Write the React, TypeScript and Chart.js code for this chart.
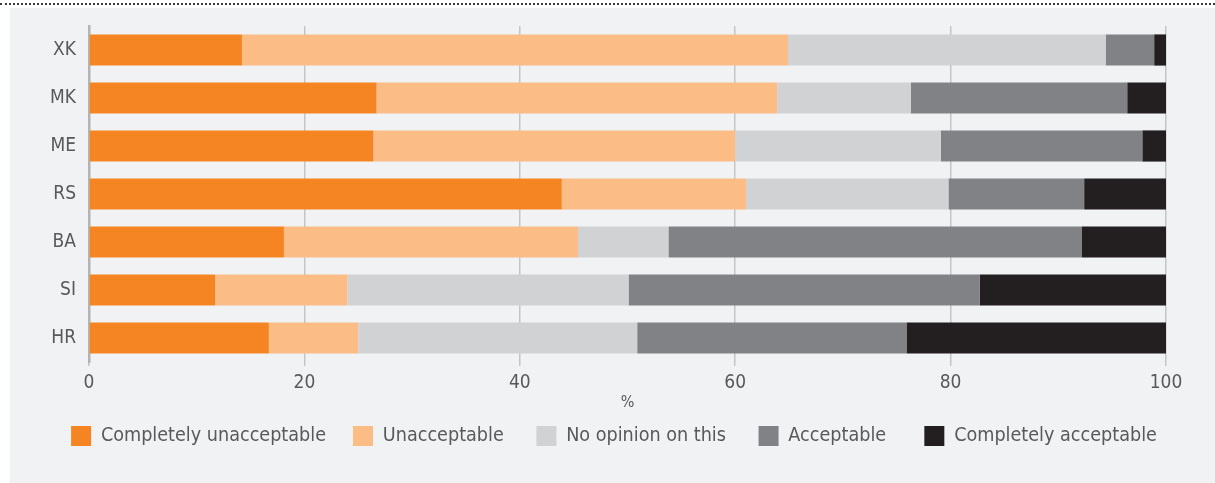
import React, { useEffect, useRef } from "react";
import { Chart, registerables } from "chart.js";

Chart.register(...registerables);

const categories = ["XK", "MK", "ME", "RS", "BA", "SI", "HR"];
const completelyUnacceptable = [14.2, 26.7, 26.4, 43.9, 18.1, 11.7, 16.7];
const unacceptable = [50.7, 37.2, 33.6, 17.1, 27.3, 12.3, 8.3];
const noOpinion = [29.5, 12.4, 19.1, 18.8, 8.4, 26.1, 25.9];
const acceptable = [4.5, 20.1, 18.7, 12.6, 38.4, 32.6, 25.0];
const completelyAcceptable = [1.1, 3.6, 2.2, 7.6, 7.8, 17.3, 24.1];
const seriesNames = [
  "Completely unacceptable",
  "Unacceptable",
  "No opinion on this",
  "Acceptable",
  "Completely acceptable",
];
const seriesColors = ["#f58523", "#fbbc86", "#d1d2d4", "#818285", "#231f20"];
const xTicks = [0, 20, 40, 60, 80, 100];
const xTitle = "%";

const FONT = "'Liberation Sans Narrow', 'DejaVu Sans Condensed', Roboto, sans-serif";
const TEXT = "#58595b";
// extra trailing space after some legend entries, to mimic the reference's uneven spacing
const legendTrail = ["", " ", " ", "  ", ""];

const legendShift = {
  id: "legendShift",
  afterLayout(chart: any) {
    const l = chart.legend;
    if (!l) return;
    const dx = 26;
    const dy = -11;
    l.left += dx;
    l.right += dx;
    l.top += dy;
    l.bottom += dy;
  },
};

export default function App() {
  const ref = useRef<HTMLCanvasElement | null>(null);

  useEffect(() => {
    const values = [completelyUnacceptable, unacceptable, noOpinion, acceptable, completelyAcceptable];
    const chart = new Chart(ref.current as HTMLCanvasElement, {
      type: "bar",
      data: {
        labels: categories,
        datasets: values.map((v, i) => ({
          label: seriesNames[i],
          data: v,
          backgroundColor: seriesColors[i],
          borderWidth: 0,
          barPercentage: 0.65,
          categoryPercentage: 1,
        })),
      },
      plugins: [legendShift],
      options: {
        indexAxis: "y",
        animation: false,
        responsive: false,
        maintainAspectRatio: false,
        layout: { padding: { left: 10, right: 49, top: 26, bottom: 16 } },
        plugins: {
          tooltip: { enabled: false },
          legend: {
            position: "bottom",
            labels: {
              boxWidth: 20,
              boxHeight: 20,
              padding: 27,
              color: TEXT,
              font: { family: FONT, size: 19.6 },
              generateLabels: (chart: any) => {
                const items = Chart.defaults.plugins.legend.labels.generateLabels(chart);
                return items.map((it: any, i: number) => ({ ...it, text: it.text + legendTrail[i] }));
              },
            },
          },
        },
        scales: {
          x: {
            stacked: true,
            min: 0,
            max: 100,
            afterBuildTicks: (scale: any) => {
              scale.ticks = xTicks.map((v) => ({ value: v }));
            },
            afterFit: (scale: any) => {
              scale.height = 48;
            },
            grid: {
              color: "#c4c5c7",
              lineWidth: 1.5,
              drawTicks: true,
              tickLength: 4,
            },
            border: { display: false },
            ticks: {
              color: TEXT,
              padding: 6,
              font: { family: FONT, size: 19 },
            },
            title: {
              display: true,
              text: xTitle,
              color: TEXT,
              padding: { top: 0, bottom: -2 },
              font: { family: FONT, size: 16 },
            },
          },
          y: {
            stacked: true,
            afterFit: (scale: any) => {
              scale.width = 79;
            },
            grid: { display: false, drawTicks: false },
            border: { display: true, color: "#b3b4b6", width: 2.5 },
            ticks: {
              color: TEXT,
              padding: 13,
              font: { family: FONT, size: 19 },
            },
          },
        },
      },
    } as any);
    return () => chart.destroy();
  }, []);

  return (
    <div style={{ position: "fixed", left: 0, top: 0, width: 1215, height: 483, background: "#ffffff" }}>
      <div
        style={{
          position: "absolute",
          left: 0,
          top: 3,
          width: 1215,
          height: 0,
          borderTop: "2px dotted #3a3a3a",
        }}
      />
      <div
        style={{
          position: "absolute",
          left: 10,
          top: 8,
          width: 1205,
          height: 475,
          background: "#f1f2f4",
        }}
      />
      <canvas
        ref={ref}
        width={1215}
        height={483}
        style={{ position: "absolute", left: 0, top: 0, width: 1215, height: 483 }}
      />
    </div>
  );
}
